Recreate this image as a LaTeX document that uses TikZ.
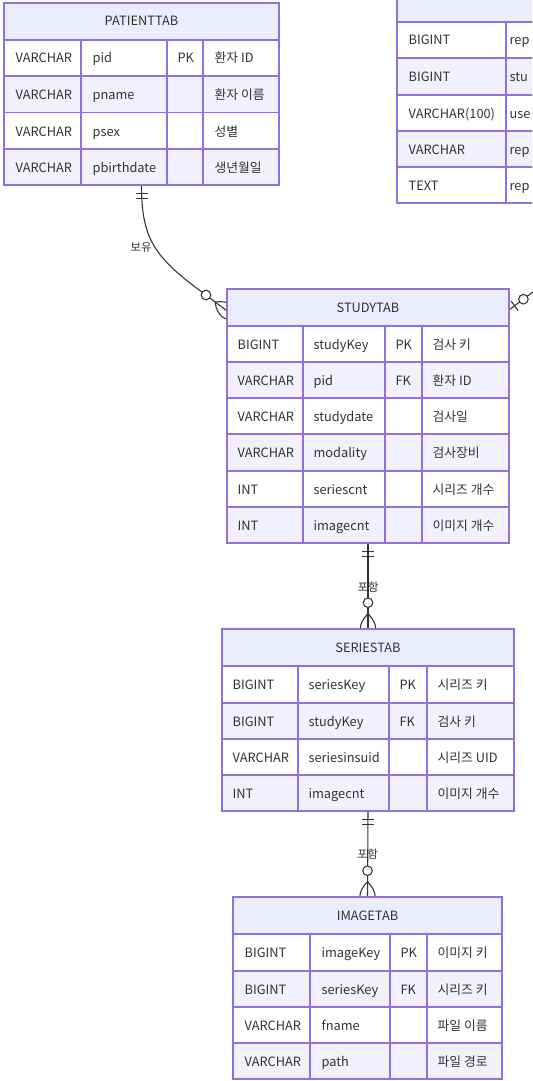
\documentclass[tikz,border=0pt]{standalone}
\usepackage{fontspec}
\setmainfont{Noto Sans CJK KR}
\usetikzlibrary{calc,fit}
\definecolor{tabhead}{HTML}{ECECFF}
\definecolor{tabeven}{HTML}{F1F1FF}
\definecolor{tabline}{HTML}{9370DB}
\definecolor{ink}{HTML}{333333}
\pgfdeclarelayer{back}
\pgfsetlayers{back,main}

\begin{document}
\begin{tikzpicture}[x=0.75pt,y=-0.75pt,font=\fontsize{9.6}{11}\selectfont,text=ink,
  head/.style={fill=tabhead,draw=tabline,line width=0.9pt},
  rowodd/.style={fill=white,draw=tabline,line width=0.9pt},
  roweven/.style={fill=tabeven,draw=tabline,line width=0.9pt},
  col/.style={draw=tabline,line width=0.9pt},
  cell/.style={anchor=base west,inner sep=0pt},
  tabtitle/.style={anchor=base,inner sep=0pt},
  rel/.style={draw=ink,line width=0.8pt},
  relname/.style={font=\fontsize{8.5}{9}\selectfont,inner sep=1pt}]
       \useasboundingbox (0,0) rectangle (532,1081);
       \clip (0,0) rectangle (532,1081);

       \node[fit={(4,3) (279,185)},inner sep=0pt] (patient) {};
       \node[fit={(227,289) (509,543)},inner sep=0pt] (study) {};
       \node[fit={(222,629) (514,811)},inner sep=0pt] (series) {};
       \node[fit={(233,897) (502,1079)},inner sep=0pt] (image) {};
       \node[fit={(397,-15) (600,203)},inner sep=0pt] (report) {};

       \filldraw[head] (4,3) rectangle (279,40) node[tabtitle] (patient-t) at (141.5,26) {PATIENTTAB};
       \filldraw[rowodd] (4,40) rectangle (279,76) node[cell] (p1a) at (15,63) {VARCHAR} node[cell] (p1b) at (92,63) {pid} node[cell] (p1c) at (177,63) {PK} node[cell] (p1d) at (214,63) {환자 ID};
       \filldraw[roweven] (4,76) rectangle (279,112.5) node[cell] (p2a) at (15,99) {VARCHAR} node[cell] (p2b) at (92,99) {pname} node[cell] (p2d) at (214,99) {환자 이름};
       \filldraw[rowodd] (4,112.5) rectangle (279,149) node[cell] (p3a) at (15,136) {VARCHAR} node[cell] (p3b) at (92,136) {psex} node[cell] (p3d) at (214,136) {성별};
       \filldraw[roweven] (4,149) rectangle (279,185) node[cell] (p4a) at (15,172) {VARCHAR} node[cell] (p4b) at (92,172) {pbirthdate} node[cell] (p4d) at (214,172) {생년월일};
       \draw[col] (81,40) -- (81,185) (167,40) -- (167,185) (203,40) -- (203,185);

       \filldraw[head] (397,-15) rectangle (600,22);
       \filldraw[rowodd] (397,22) rectangle (600,58) node[cell] (r1a) at (408,45) {BIGINT} node[cell] (r1b) at (509,45) {rep};
       \filldraw[roweven] (397,58) rectangle (600,95) node[cell] (r2a) at (408,81.5) {BIGINT} node[cell] (r2b) at (509,81.5) {stu};
       \filldraw[rowodd] (397,95) rectangle (600,131) node[cell] (r3a) at (408,118) {VARCHAR(100)} node[cell] (r3b) at (509,118) {use};
       \filldraw[roweven] (397,131) rectangle (600,167) node[cell] (r4a) at (408,154) {VARCHAR} node[cell] (r4b) at (509,154) {rep};
       \filldraw[rowodd] (397,167) rectangle (600,203) node[cell] (r5a) at (408,190) {TEXT} node[cell] (r5b) at (509,190) {rep};
       \draw[col] (506,22) -- (506,203);

       \filldraw[head] (227,289) rectangle (509,326) node[tabtitle] (study-t) at (368,312) {STUDYTAB};
       \filldraw[rowodd] (227,326) rectangle (509,362) node[cell] (s1a) at (237,349) {BIGINT} node[cell] (s1b) at (313,349) {studyKey} node[cell] (s1c) at (395,349) {PK} node[cell] (s1d) at (432,349) {검사 키};
       \filldraw[roweven] (227,362) rectangle (509,398) node[cell] (s2a) at (237,385) {VARCHAR} node[cell] (s2b) at (313,385) {pid} node[cell] (s2c) at (395,385) {FK} node[cell] (s2d) at (432,385) {환자 ID};
       \filldraw[rowodd] (227,398) rectangle (509,434) node[cell] (s3a) at (237,421) {VARCHAR} node[cell] (s3b) at (313,421) {studydate} node[cell] (s3d) at (432,421) {검사일};
       \filldraw[roweven] (227,434) rectangle (509,471) node[cell] (s4a) at (237,457.5) {VARCHAR} node[cell] (s4b) at (313,457.5) {modality} node[cell] (s4d) at (432,457.5) {검사장비};
       \filldraw[rowodd] (227,471) rectangle (509,507) node[cell] (s5a) at (237,494) {INT} node[cell] (s5b) at (313,494) {seriescnt} node[cell] (s5d) at (432,494) {시리즈 개수};
       \filldraw[roweven] (227,507) rectangle (509,543) node[cell] (s6a) at (237,530) {INT} node[cell] (s6b) at (313,530) {imagecnt} node[cell] (s6d) at (432,530) {이미지 개수};
       \draw[col] (303,326) -- (303,543) (385,326) -- (385,543) (422,326) -- (422,543);

       \filldraw[head] (222,629) rectangle (514,666) node[tabtitle] (series-t) at (368,652) {SERIESTAB};
       \filldraw[rowodd] (222,666) rectangle (514,703) node[cell] (e1a) at (232,689.5) {BIGINT} node[cell] (e1b) at (308,689.5) {seriesKey} node[cell] (e1c) at (399,689.5) {PK} node[cell] (e1d) at (437,689.5) {시리즈 키};
       \filldraw[roweven] (222,703) rectangle (514,739) node[cell] (e2a) at (232,726) {BIGINT} node[cell] (e2b) at (308,726) {studyKey} node[cell] (e2c) at (399,726) {FK} node[cell] (e2d) at (437,726) {검사 키};
       \filldraw[rowodd] (222,739) rectangle (514,775) node[cell] (e3a) at (232,762) {VARCHAR} node[cell] (e3b) at (308,762) {seriesinsuid} node[cell] (e3d) at (437,762) {시리즈 UID};
       \filldraw[roweven] (222,775) rectangle (514,811) node[cell] (e4a) at (232,798) {INT} node[cell] (e4b) at (308,798) {imagecnt} node[cell] (e4d) at (437,798) {이미지 개수};
       \draw[col] (298,666) -- (298,811) (389,666) -- (389,811) (427,666) -- (427,811);

       \filldraw[head] (233,897) rectangle (502,934) node[tabtitle] (image-t) at (367.5,920) {IMAGETAB};
       \filldraw[rowodd] (233,934) rectangle (502,971) node[cell] (i1a) at (244,957.5) {BIGINT} node[cell] (i1b) at (321,957.5) {imageKey} node[cell] (i1c) at (400,957.5) {PK} node[cell] (i1d) at (437,957.5) {이미지 키};
       \filldraw[roweven] (233,971) rectangle (502,1007) node[cell] (i2a) at (244,994) {BIGINT} node[cell] (i2b) at (321,994) {seriesKey} node[cell] (i2c) at (400,994) {FK} node[cell] (i2d) at (437,994) {시리즈 키};
       \filldraw[rowodd] (233,1007) rectangle (502,1043) node[cell] (i3a) at (244,1030) {VARCHAR} node[cell] (i3b) at (321,1030) {fname} node[cell] (i3d) at (437,1030) {파일 이름};
       \filldraw[roweven] (233,1043) rectangle (502,1079) node[cell] (i4a) at (244,1066) {VARCHAR} node[cell] (i4b) at (321,1066) {path} node[cell] (i4d) at (437,1066) {파일 경로};
       \draw[col] (310,934) -- (310,1079) (390,934) -- (390,1079) (427,934) -- (427,1079);

       \coordinate (pe) at ($(study.north west)+(0,22)$);
       \coordinate (re) at ($(study.north east)+(0,21)$);
       \coordinate (rx) at ($(re)+(40,-30)$);

       \begin{pgfonlayer}{back}
       \draw[rel] (patient.south) .. controls (141.5,240) and (155,258) .. (206,295) -- (pe);
       \draw[rel] ($(patient.south)+(-6,8)$) -- ++(12,0) ($(patient.south)+(-6,13)$) -- ++(12,0);
       \filldraw[rel,fill=white] (206,295) circle (4.8);
       \draw[rel] (215,302) .. controls +(2,14) and +(-14,2) .. (239,320) (215,302) .. controls +(14,-2) and +(-2,-14) .. (239,320);
       \node[relname] (own) at (141,247) {보유};

       \draw[rel] (re) -- (rx);
       \draw[rel] (518.2,310.6) -- (511,301);
       \filldraw[rel,fill=white] (523.4,299.2) circle (4.8);

       \draw[rel] (study.south) -- (series.north);
       \draw[rel] ($(study.south)+(-6,8)$) -- ++(12,0) ($(study.south)+(-6,13)$) -- ++(12,0);
       \filldraw[rel,fill=white] ($(series.north)+(0,-26)$) circle (4.8);
       \draw[rel] ($(series.north)+(0,-15)$) .. controls +(10.2,10.2) and +(10.2,-10.2) .. ($(series.north)+(0,15)$) ($(series.north)+(0,-15)$) .. controls +(-10.2,10.2) and +(-10.2,-10.2) .. ($(series.north)+(0,15)$);
       \node[relname] (has1) at (368,587) {포함};

       \draw[rel] (series.south) -- (image.north);
       \draw[rel] ($(series.south)+(-6,8)$) -- ++(12,0) ($(series.south)+(-6,13)$) -- ++(12,0);
       \filldraw[rel,fill=white] ($(image.north)+(0,-26)$) circle (4.8);
       \draw[rel] ($(image.north)+(0,-15)$) .. controls +(10.2,10.2) and +(10.2,-10.2) .. ($(image.north)+(0,15)$) ($(image.north)+(0,-15)$) .. controls +(-10.2,10.2) and +(-10.2,-10.2) .. ($(image.north)+(0,15)$);
       \node[relname] (has2) at (367.5,854) {포함};
       \end{pgfonlayer}
      \end{tikzpicture}
\end{document}
